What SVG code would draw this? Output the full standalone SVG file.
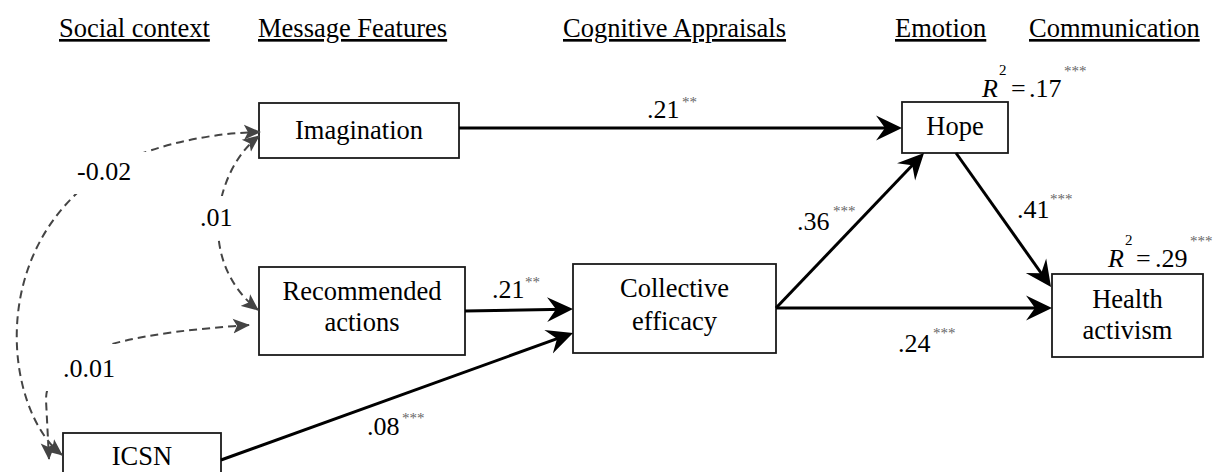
<svg xmlns="http://www.w3.org/2000/svg" width="1213" height="472" viewBox="0 0 1213 472">
<style>
.t{font-family:"Liberation Serif","Times New Roman",serif;font-size:26.5px;fill:#000}
.hdr{text-decoration:underline}
.m{text-anchor:middle}
.lab{font-size:26px}
.sup{font-family:"Liberation Serif","Times New Roman",serif;font-size:15px;fill:#666}
.sq{font-family:"Liberation Serif","Times New Roman",serif;font-size:15px;fill:#000}
.it{font-style:italic}
.box{fill:#fff;stroke:#1a1a1a;stroke-width:1.8}
.c{fill:none;stroke:#000;stroke-width:3;marker-end:url(#ah)}
.d{fill:none;stroke:#444;stroke-width:2;stroke-dasharray:8 5;marker-start:url(#dh);marker-end:url(#dh)}
.bg{fill:#fff}
</style>
<defs>
<marker id="ah" markerUnits="userSpaceOnUse" markerWidth="28" markerHeight="26" viewBox="0 0 28 26" refX="18" refY="13" orient="auto">
<path d="M26,13 L0,0.5 L9,13 L0,25.5 Z" fill="#000"/>
</marker>
<marker id="dh" markerUnits="userSpaceOnUse" markerWidth="18" markerHeight="16" viewBox="0 0 18 16" refX="16" refY="8" orient="auto-start-reverse">
<path d="M17,8 L0,0.5 L4,8 L0,15.5 Z" fill="#444"/>
</marker>
</defs>
<rect width="1213" height="472" fill="#fff"/>

<g id="headers">
<text class="t hdr" x="59" y="37">Social context</text>
<text class="t hdr" x="258" y="37">Message Features</text>
<text class="t hdr" x="563" y="37">Cognitive Appraisals</text>
<text class="t hdr" x="895" y="37">Emotion</text>
<text class="t hdr" x="1029" y="37">Communication</text>
</g>

<g id="node-imagination">
<rect class="box" x="259" y="103" width="200" height="55"/>
<text class="t m" x="359" y="139">Imagination</text>
</g>
<g id="node-recommended">
<rect class="box" x="259" y="267" width="206" height="88"/>
<text class="t m" x="362" y="300">Recommended</text>
<text class="t m" x="362" y="331">actions</text>
</g>
<g id="node-icsn">
<rect class="box" x="63" y="433" width="158" height="60"/>
<text class="t m" x="142" y="465">ICSN</text>
</g>
<g id="node-collective">
<rect class="box" x="573" y="264" width="203" height="89"/>
<text class="t m" x="674.5" y="297">Collective</text>
<text class="t m" x="674.5" y="330">efficacy</text>
</g>
<g id="node-hope">
<rect class="box" x="902" y="102" width="106" height="51"/>
<text class="t m" x="955" y="135">Hope</text>
</g>
<g id="node-health">
<rect class="box" x="1052" y="274" width="151" height="83"/>
<text class="t m" x="1127.5" y="308">Health</text>
<text class="t m" x="1127.5" y="339">activism</text>
</g>

<g id="connectors">
<path class="c" d="M459,128 L894,128"/>
<path class="c" d="M465,311 L565,309.2"/>
<path class="c" d="M221,460 L565.5,335.7"/>
<path class="c" d="M776,308 L918.5,158.8"/>
<path class="c" d="M776,308 L1044,308"/>
<path class="c" d="M956,153 L1046.4,280.5"/>
<path class="d" d="M62,455 C5,410 -15,250 104,172 C137,150 200,133 260,132"/>
<path class="d" d="M259,136 C215,170 195,260 258,310"/>
<path class="d" d="M249,325 C150,332 46,345 46,400 L49,459"/>
</g>

<g id="labels">
<rect class="bg" x="72" y="152" width="86" height="42"/>
<text class="t lab" x="77" y="180">-0.02</text>
<rect class="bg" x="197" y="196" width="37" height="42"/>
<text class="t lab" x="200" y="226">.01</text>
<rect class="bg" x="36" y="344" width="82" height="47"/>
<text class="t lab" x="63" y="377">.0.01</text>

<text class="t lab" x="647" y="118">.21</text><text class="sup" x="682" y="107">**</text>
<text class="t lab" x="492" y="298">.21</text><text class="sup" x="525" y="287">**</text>
<text class="t lab" x="367" y="435">.08</text><text class="sup" x="402" y="423">***</text>
<text class="t lab" x="797" y="230">.36</text><text class="sup" x="833" y="216">***</text>
<text class="t lab" x="1017" y="218">.41</text><text class="sup" x="1050" y="204">***</text>
<text class="t lab" x="898" y="352">.24</text><text class="sup" x="933" y="338">***</text>

<text class="t lab it" x="982" y="97">R</text><text class="sq" x="999" y="75">2</text>
<text class="t lab" x="1011" y="97">=</text><text class="t lab" x="1029" y="97">.17</text>
<text class="sup" x="1064" y="76">***</text>

<text class="t lab it" x="1108" y="267">R</text><text class="sq" x="1125" y="245">2</text>
<text class="t lab" x="1136" y="267">=</text><text class="t lab" x="1155" y="267">.29</text>
<text class="sup" x="1190" y="246">***</text>
</g>
</svg>
